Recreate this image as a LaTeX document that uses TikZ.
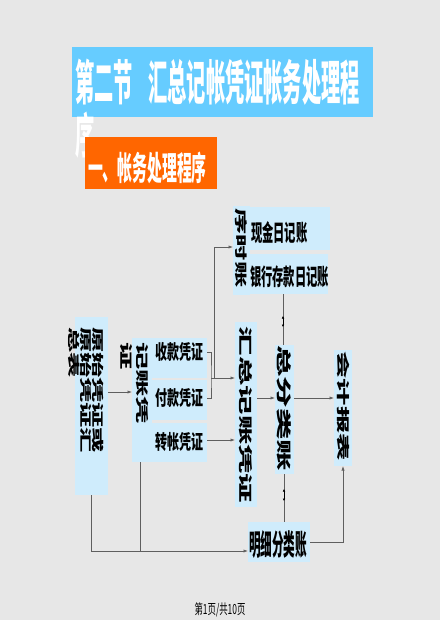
\documentclass[tikz,border=0pt]{standalone}
\usepackage{fontspec}
\usetikzlibrary{arrows.meta}
\newfontfamily\fT[FakeStretch=0.40]{Noto Sans CJK SC}
\newfontfamily\fO[FakeStretch=0.45]{Noto Sans CJK SC}
\newfontfamily\fB[FakeStretch=0.49]{Noto Sans CJK SC}
\newfontfamily\fC[FakeStretch=0.60]{Noto Sans CJK SC}
\newfontfamily\fV[FakeStretch=2.1]{Noto Sans CJK SC}
\definecolor{bgc}{RGB}{231,231,231}
\definecolor{lbox}{RGB}{207,236,252}
\definecolor{tbox}{RGB}{102,204,255}
\definecolor{obox}{RGB}{255,102,0}
\definecolor{lc}{RGB}{95,95,95}
\tikzset{
  lb/.style={fill=lbox, draw=none, inner sep=0pt, outer sep=0pt, rectangle},
  txt/.style={inner sep=0pt, outer sep=0pt, text=black},
  vtxt/.style={inner sep=0pt, outer sep=0pt, text=black, rotate=-90},
  conn/.style={draw=lc, line width=0.7pt},
  arr/.style={conn, -{Latex[length=4.5pt,width=3.2pt]}},
  dmark/.style={draw=black, line width=0.7pt, {Latex[length=2.5pt,width=2.6pt]}-{Latex[length=2.5pt,width=2.6pt]}}
}
\begin{document}
\begin{tikzpicture}[x=1pt,y=-1pt]
\fill[bgc] (0,0) rectangle (440,620);
\useasboundingbox (0,0) rectangle (440,620);
% title
\node[lb, fill=tbox, minimum width=301pt, minimum height=70pt] (title) at (222.5,82) {};
\node[txt, text=white, anchor=base west, font={\fT\bfseries\fontsize{48}{50}\selectfont}] (titletext) at (75,101) {第二节\hspace{16pt}汇总记帐凭证帐务处理程};
\node[txt, text=white, anchor=base west, font={\fT\bfseries\fontsize{48}{50}\selectfont}] (titlexu) at (75,154) {序};
\node[lb, fill=obox, minimum width=132pt, minimum height=52pt] (orange) at (151,163) {};
\node[txt, text=white, anchor=base west, font={\fO\bfseries\fontsize{33}{35}\selectfont}] (orangetext) at (88,181) {一、帐务处理程序};
% boxes
\node[lb, minimum width=17pt, minimum height=89pt] (xsz) at (241.5,250.5) {};
\node[lb, minimum width=81pt, minimum height=43pt] (xj) at (289.5,228.5) {};
\node[lb, minimum width=79pt, minimum height=40pt] (yh) at (288.5,274) {};
\node[lb, minimum width=33pt, minimum height=178pt] (ys) at (91.5,406) {};
\node[lb, minimum width=20pt, minimum height=124pt] (jz) at (142,400) {};
\node[lb, minimum width=55pt, minimum height=40pt] (sk) at (179.5,358) {};
\node[lb, minimum width=55pt, minimum height=40pt] (fk) at (179.5,400) {};
\node[lb, minimum width=55pt, minimum height=39pt] (zz) at (179.5,442.5) {};
\node[lb, minimum width=22pt, minimum height=185pt] (hz) at (246,414.5) {};
\node[lb, minimum width=19pt, minimum height=129pt] (zf) at (284.5,409.5) {};
\node[lb, minimum width=18pt, minimum height=116pt] (kj) at (343,408) {};
\node[lb, minimum width=62pt, minimum height=40pt] (mx) at (279,542) {};
% horizontal texts
\node[txt, anchor=base west, font={\fB\bfseries\fontsize{23}{25}\selectfont}] (xjT) at (251,241) {现金日记账};
\node[txt, anchor=base west, font={\fB\bfseries\fontsize{23}{25}\selectfont}] (yhT) at (250,285) {银行存款日记账};
\node[txt, anchor=base west, font={\fC\bfseries\fontsize{20}{22}\selectfont}] (skT) at (155,359) {收款凭证};
\node[txt, anchor=base west, font={\fC\bfseries\fontsize{20}{22}\selectfont}] (fkT) at (155,405) {付款凭证};
\node[txt, anchor=base west, font={\fC\bfseries\fontsize{20}{22}\selectfont}] (zzT) at (155,449) {转帐凭证};
\node[txt, anchor=base west, font={\fT\bfseries\fontsize{29}{31}\selectfont}] (mxT) at (249,555) {明细分类账};
% vertical texts
\node[vtxt, font={\fV\bfseries\fontsize{12.5}{15}\selectfont}] (xszT) at (241,248) {序时账};
\node[vtxt, font={\fV\bfseries\fontsize{14}{17}\selectfont}] (hzT) at (246,415) {汇总记账凭证};
\node[vtxt, font={\fV\bfseries\fontsize{15}{18}\selectfont}] (zfT) at (284.5,408) {总分类账};
\node[vtxt, font={\fV\bfseries\fontsize{13}{15}\selectfont}] (kjT) at (343,406) {会计报表};
\node[vtxt, anchor=north west, align=left, font={\fV\bfseries\fontsize{13}{16}\selectfont}] (jzT) at (149,342) {记账凭\\证};
\node[vtxt, anchor=north west, align=left, font={\fV\bfseries\fontsize{12}{12}\selectfont}] (ysT) at (104,327) {原始凭证或\\原始凭证汇\\总表};
% footer
\node[txt, anchor=base, font={\fC\fontsize{14}{16}\selectfont}] (footer) at (220,614) {第1页/共10页};
% connectors
\coordinate (br) at (211,378);
\coordinate (up) at (214,378);
\coordinate (jzd) at (140,551);
\draw[arr] (ys.east |- 0,392) -- (jz.west |- 0,392);
\draw[conn] (sk.east |- 0,352) -| (br) |- (fk.east |- 0,398);
\draw[arr] (br) -- (hz.west |- br);
\draw[arr] (up) |- (xsz.west |- 0,247);
\draw[arr] (zz.east |- 0,440) -- (hz.west |- 0,440);
\draw[arr] (hz.east |- 0,398) -- (zf.west |- 0,398);
\draw[arr] (zf.east |- 0,398) -- (kj.west |- 0,398);
\draw[conn, line width=0.5pt] (yh.south -| 283,0) -- (zf.north -| 283,0);
\draw[dmark] (283,316) -- (283,327);
\draw[conn, line width=0.5pt] (zf.south -| 284,0) -- (mx.north -| 284,0);
\draw[dmark] (284,489) -- (284,501);
\draw[arr] (ys.south) |- (mx.west |- 0,551);
\draw[conn] (jz.south -| jzd) -- (jzd);
\draw[arr] (mx.east) -| (kj.south);
\end{tikzpicture}
\end{document}
